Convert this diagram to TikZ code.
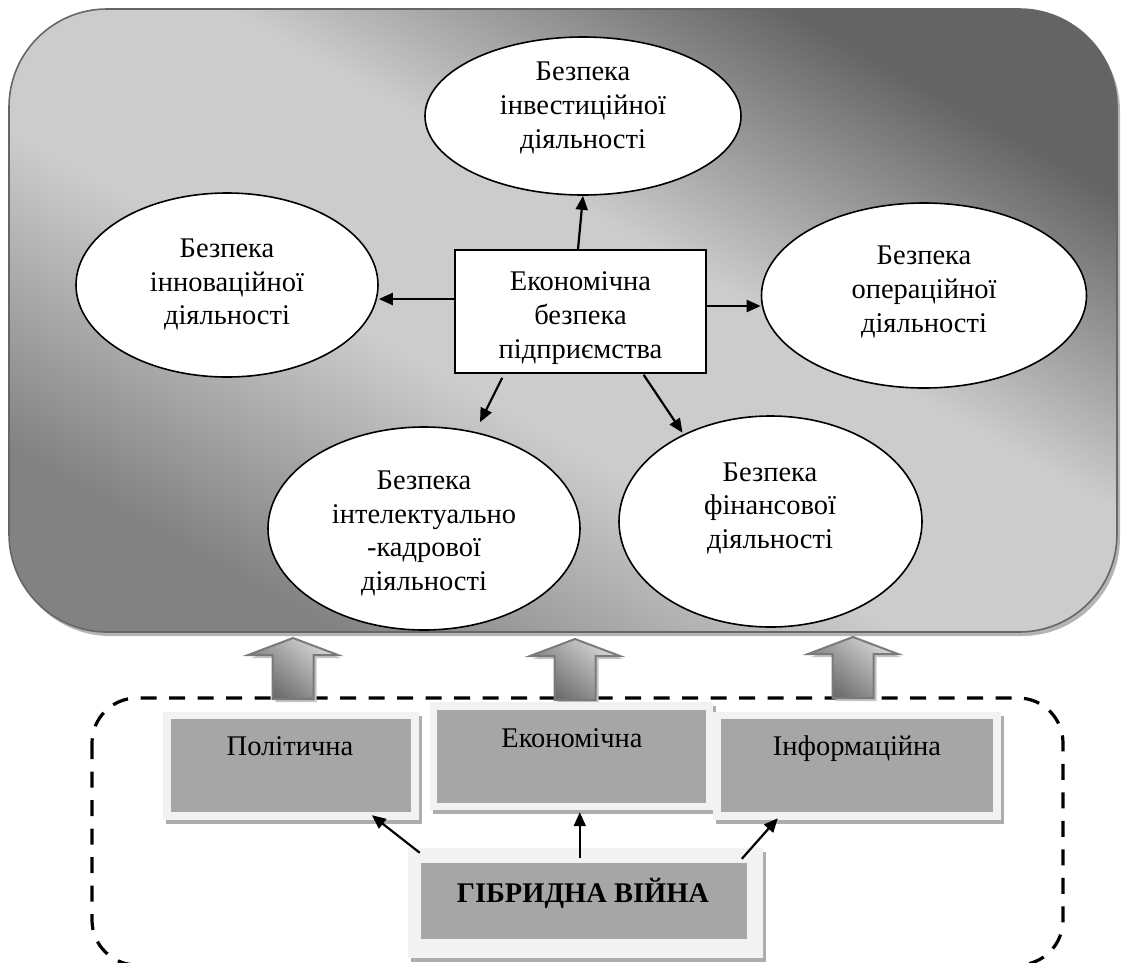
\documentclass[tikz,border=0pt]{standalone}
\usepackage{fontspec}
\setmainfont{Liberation Serif}
\usetikzlibrary{arrows.meta,calc,shapes.geometric,shadows}
\definecolor{bigedge}{HTML}{666666}
\definecolor{gdark}{HTML}{646464}
\definecolor{gmid}{HTML}{CCCCCC}
\definecolor{gbl}{HTML}{828282}
\definecolor{bigshadow}{HTML}{B4B4B4}
\definecolor{boxframe}{HTML}{F2F2F2}
\definecolor{boxfill}{HTML}{A6A6A6}
\definecolor{boxshadow}{HTML}{ADADAD}
\definecolor{barrowedge}{HTML}{7A7A7A}
\definecolor{barrowlight}{HTML}{D6D6D6}
\definecolor{barrowdark}{HTML}{646464}
\definecolor{barrowshadow}{HTML}{C4C4C4}
\pgfdeclareverticalshading{bigshade}{100bp}{color(0bp)=(gbl); color(25bp)=(gbl); color(43bp)=(gmid); color(57bp)=(gmid); color(75bp)=(gdark); color(100bp)=(gdark)}
\def\barpath{(-20.5,61) -- (-20.5,17) -- (-45,17) -- (0,0) -- (45,17) -- (20.5,17) -- (20.5,61) -- cycle}
\tikzset{
  bigarr/.pic={
    \begin{scope}[shift={(3,3)}]
      \fill[barrowshadow] \barpath;
    \end{scope}
    \path[draw=barrowedge, line width=2pt, top color=barrowlight, bottom color=barrowdark, shading angle=-40] \barpath;
  }
}
\begin{document}
\begin{tikzpicture}[x=1pt,y=-1pt,
  txt/.style={font=\fontsize{28.5}{33.8}\selectfont, align=center, inner sep=0pt},
  oval/.style={ellipse, draw=black, line width=1.6pt, fill=white, inner sep=0pt},
  mainbox/.style={rectangle, draw=black, line width=1.6pt, fill=white, inner sep=0pt},
  arr/.style={line width=2.2pt, -{Triangle[length=14pt,width=12pt]}},
  outerbox/.style={rectangle, fill=boxframe, inner sep=0pt,
    drop shadow={shadow xshift=3pt, shadow yshift=-4pt, fill=boxshadow, opacity=1}},
  innerbox/.style={rectangle, fill=boxfill, inner sep=0pt},
  dashframe/.style={draw=black, line width=3.2pt, dash pattern=on 16pt off 12.5pt, rounded corners=45pt}
]
\useasboundingbox (0,0) rectangle (1121,962);
\clip (0,0) rectangle (1121,962);

% big container
\fill[bigshadow, rounded corners=98pt] (12,13) rectangle (1120,636);
\begin{scope}
  \clip[rounded corners=98pt] (9,9) rectangle (1117,632);
  \begin{scope}[transform canvas={xscale=1.77849}]
    \shade[shading=bigshade, shading angle=-45] (5.0604,9) rectangle (628.0604,632);
  \end{scope}
\end{scope}
\draw[bigedge, line width=1.6pt, rounded corners=98pt] (9,9) rectangle (1117,632);

% dashed container
\draw[dashframe] (92,698) rectangle (1063,965);

% block arrows
\pic at (293,638) {bigarr};
\pic at (575,639) {bigarr};
\pic at (853,637) {bigarr};

% ellipses
\node[oval, minimum width=316pt, minimum height=158pt] (etop) at (583,116) {};
\node[oval, minimum width=302pt, minimum height=184pt] (eleft) at (227,285) {};
\node[oval, minimum width=325pt, minimum height=185pt] (eright) at (924,295.5) {};
\node[oval, minimum width=312pt, minimum height=203pt] (ebl) at (424,528.5) {};
\node[oval, minimum width=303pt, minimum height=211pt] (ebr) at (770.5,521.5) {};
\node[mainbox, minimum width=251pt, minimum height=123pt] (c) at (580.5,311.5) {};

\node[txt] (ttop) at (583,108) {Безпека\\інвестиційної\\діяльності};
\node[txt] (tleft) at (227,284.5) {Безпека\\інноваційної\\діяльності};
\node[txt] (tc) at (580.5,318) {Економічна\\безпека\\підприємства};
\node[txt] (tright) at (924,292) {Безпека\\операційної\\діяльності};
\node[txt] (tbl) at (424,533.5) {Безпека\\інтелектуально\\-кадрової\\діяльності};
\node[txt] (tbr) at (770,508.3) {Безпека\\фінансової\\діяльності};

% arrows from the centre
\coordinate (lstart) at ($(c.west)+(0,-12.5)$);
\coordinate (rstart) at ($(c.east)+(0,-5.5)$);
\draw[arr] ([xshift=-2.5pt]c.north) -- (etop.south);
\draw[arr] (lstart) -- (lstart -| eleft.east);
\draw[arr] (rstart) -- (rstart -| eright.west);
\draw[arr] ($(c.south west)!0.19!(c.south east)+(0,4)$) -- ($(ebl.north)+(56,-4)$);
\draw[arr] ($(c.south west)!0.75!(c.south east)+(0,1)$) -- ($(ebr.north)+(-88,17.5)$);

% bottom boxes
\node[outerbox, minimum width=256pt, minimum height=108pt] (polo) at (291,766) {};
\node[innerbox, minimum width=240pt, minimum height=93pt] (poli) at (291,765.5) {};
\node[outerbox, minimum width=283pt, minimum height=108pt] (ekoo) at (571.5,756) {};
\node[innerbox, minimum width=269pt, minimum height=93pt] (ekoi) at (571.5,756.5) {};
\node[outerbox, minimum width=288pt, minimum height=108pt] (info) at (857,766) {};
\node[innerbox, minimum width=272pt, minimum height=93pt] (infi) at (857,765.5) {};
\node[outerbox, minimum width=355pt, minimum height=110pt] (gibo) at (585.5,903) {};
\node[innerbox, minimum width=326pt, minimum height=76pt] (gibi) at (584,901) {};

\node[txt, anchor=base] (tpol) at (290,755) {Політична};
\node[txt, anchor=base] (teko) at (572,747) {Економічна};
\node[txt, anchor=base] (tinf) at (857,755) {Інформаційна};
\node[txt, anchor=base, font=\fontsize{28.5}{33.8}\selectfont\bfseries] (tgib) at (583,902) {ГІБРИДНА ВІЙНА};

\draw[arr] ($(gibo.north west)+(12,5)$) -- ($(polo.south west)+(209,-5)$);
\draw[arr] ($(gibo.north west)+(172,10)$) -- ($(ekoo.south west)+(150,2)$);
\draw[arr] ($(gibo.north west)+(334,11)$) -- ($(info.south west)+(65,-2)$);
\end{tikzpicture}
\end{document}
